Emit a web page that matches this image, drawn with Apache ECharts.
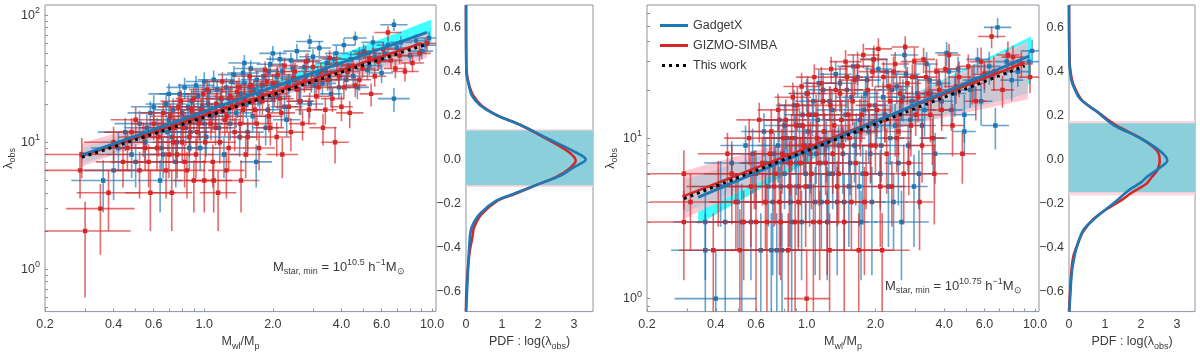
<!DOCTYPE html>
<html>
<head>
<meta charset="utf-8">
<script src="https://cdn.jsdelivr.net/npm/echarts@6/dist/echarts.min.js"></script>
<style>
html, body { margin: 0; padding: 0; background: #fff; }
#chart { width: 1200px; height: 356px; }
</style>
</head>
<body>
<div id="chart"></div>
<script>
// ---------- data ----------
// axis ticks
const xTickLabels = [0.2, 0.4, 0.6, 1, 2, 4, 6, 10]
const xTicks = [0.2, 0.3, 0.4, 0.5, 0.6, 0.7, 0.8, 0.9, 1, 2, 3, 4, 5, 6, 7, 8, 9, 10]
const yLabels1 = [1, 10, 100]
const yTicks1 = [0.5, 0.6, 0.7, 0.8, 0.9, 1, 2, 3, 4, 5, 6, 7, 8, 9, 10, 20, 30, 40, 50, 60, 70, 80, 90, 100]
const yLabels2 = [1, 10]
const yTicks2 = [0.9, 1, 2, 3, 4, 5, 6, 7, 8, 9, 10, 20, 30, 40, 50, 60]
const pdfYTicks = [-0.6, -0.4, -0.2, 0, 0.2, 0.4, 0.6]
const pdfXTicks = [0, 1, 2, 3]

// points: [Mwl/Mp, lambda_obs, x error (dex), lambda error]
// panel 1, Mstar,min = 10^10.5
const gadgetPts1 = [
  [0.36, 5, 0.14, 2.2], [0.40, 6, 0.13, 2.5], [0.42, 9, 0.12, 3], [0.45, 12, 0.12, 3.5],
  [0.48, 8, 0.11, 2.8], [0.52, 14, 0.11, 3.7], [0.55, 10, 0.1, 3.2], [0.58, 17, 0.1, 4],
  [0.62, 12, 0.1, 3.5], [0.64, 5, 0.1, 2.2], [0.65, 9, 0.1, 3], [0.68, 20, 0.09, 4.5],
  [0.70, 15, 0.09, 3.9], [0.70, 24, 0.09, 4.9], [0.72, 11, 0.09, 3.3], [0.75, 7, 0.09, 2.6],
  [0.78, 24, 0.09, 4.9], [0.80, 17, 0.08, 4.1], [0.83, 13, 0.08, 3.6], [0.86, 9, 0.08, 3],
  [0.88, 21, 0.08, 4.6], [0.92, 28, 0.08, 5.3], [0.95, 15, 0.08, 3.9], [0.98, 19, 0.08, 4.4],
  [1.0, 30, 0.08, 5.5], [1.02, 11, 0.08, 3.3], [1.05, 25, 0.08, 5], [1.1, 31, 0.07, 5.6],
  [1.12, 17, 0.07, 4.1], [1.18, 22, 0.07, 4.7], [1.22, 8, 0.07, 2.8], [1.25, 27, 0.07, 5.2],
  [1.3, 14, 0.07, 3.7], [1.35, 34, 0.07, 5.8], [1.4, 20, 0.07, 4.5], [1.45, 24, 0.07, 4.9],
  [1.5, 42, 0.07, 6.5], [1.5, 29, 0.07, 5.4], [1.55, 12, 0.07, 3.5], [1.6, 38, 0.07, 6.2],
  [1.65, 26, 0.07, 5.1], [1.69, 7, 0.07, 2.6], [1.75, 21, 0.07, 4.6], [1.82, 33, 0.06, 5.7],
  [1.9, 18, 0.06, 4.2], [1.95, 41, 0.06, 6.4], [2.0, 50, 0.06, 7], [2.05, 28, 0.06, 5.3],
  [2.1, 23, 0.06, 4.8], [2.2, 36, 0.06, 6], [2.3, 15, 0.06, 3.9], [2.4, 44, 0.06, 6.6],
  [2.5, 31, 0.06, 5.6], [2.6, 26, 0.06, 5.1], [2.75, 39, 0.06, 6.2], [2.9, 62, 0.06, 7.9],
  [2.9, 20, 0.06, 4.5], [3.0, 47, 0.06, 6.9], [3.15, 34, 0.06, 5.8], [3.3, 29, 0.06, 5.4],
  [3.45, 42, 0.05, 6.5], [3.6, 24, 0.05, 4.9], [3.8, 50, 0.05, 7.1], [4.0, 37, 0.05, 6.1],
  [4.2, 31, 0.05, 5.6], [4.4, 45, 0.05, 6.7], [4.6, 66, 0.05, 8.1], [4.7, 27, 0.05, 5.2],
  [5.0, 52, 0.05, 7.2], [5.3, 40, 0.05, 6.3], [5.6, 47, 0.05, 6.9], [6.0, 35, 0.05, 5.9],
  [6.4, 58, 0.05, 7.6], [6.8, 84, 0.06, 9.2], [6.8, 22, 0.07, 4.7], [7.3, 61, 0.05, 7.8],
  [8.0, 48, 0.05, 6.9], [9.3, 58, 0.05, 7.6], [9.7, 66, 0.05, 8.1]
]
const gadgetPts1b = [
  [0.5, 7, 0.11, 2.6], [0.56, 13, 0.1, 3.6], [0.6, 19, 0.1, 4.4], [0.66, 8, 0.1, 2.8],
  [0.69, 12, 0.09, 3.5], [0.73, 18, 0.09, 4.2], [0.76, 10, 0.09, 3.2], [0.79, 14, 0.09, 3.7],
  [0.82, 27, 0.08, 5.2], [0.85, 19, 0.08, 4.4], [0.87, 12, 0.08, 3.5], [0.9, 16, 0.08, 4],
  [0.94, 23, 0.08, 4.8], [0.96, 9, 0.08, 3], [1.0, 14, 0.08, 3.7], [1.04, 20, 0.08, 4.5],
  [1.08, 16, 0.07, 4], [1.14, 26, 0.07, 5.1], [1.16, 13, 0.07, 3.6], [1.2, 19, 0.07, 4.4],
  [1.28, 22, 0.07, 4.7], [1.32, 30, 0.07, 5.5], [1.38, 17, 0.07, 4.1], [1.43, 11, 0.07, 3.3],
  [1.48, 35, 0.07, 5.9], [1.53, 20, 0.07, 4.5], [1.58, 27, 0.07, 5.2], [1.63, 16, 0.07, 4],
  [1.7, 31, 0.07, 5.6], [1.72, 24, 0.07, 4.9], [1.8, 28, 0.06, 5.3], [1.86, 13, 0.06, 3.6],
  [1.92, 36, 0.06, 6], [2.0, 22, 0.06, 4.7], [2.08, 33, 0.06, 5.7], [2.15, 45, 0.06, 6.7],
  [2.25, 19, 0.06, 4.4], [2.35, 29, 0.06, 5.4], [2.45, 38, 0.06, 6.2], [2.55, 52, 0.06, 7.2],
  [2.65, 21, 0.06, 4.6], [2.8, 33, 0.06, 5.7], [2.85, 44, 0.06, 6.6], [3.05, 28, 0.06, 5.3],
  [3.2, 55, 0.05, 7.4], [3.4, 36, 0.05, 6], [3.55, 31, 0.05, 5.6], [3.7, 45, 0.05, 6.7],
  [3.9, 27, 0.05, 5.2], [4.1, 58, 0.05, 7.6], [4.3, 40, 0.05, 6.3], [4.5, 33, 0.05, 5.7],
  [4.8, 49, 0.05, 7], [5.2, 37, 0.05, 6.1], [5.5, 61, 0.05, 7.8], [5.9, 44, 0.05, 6.6],
  [6.2, 50, 0.05, 7.1], [7.0, 55, 0.05, 7.4], [8.5, 63, 0.05, 7.9], [9.0, 52, 0.05, 7.2]
]
const gizmoPts1 = [
  [0.29, 8, 0.22, 2.8], [0.285, 6, 0.22, 2.4], [0.30, 2, 0.2, 1.4], [0.35, 3, 0.15, 1.7],
  [0.38, 4, 0.14, 2], [0.40, 10, 0.13, 3.2], [0.44, 7, 0.12, 2.6], [0.48, 12, 0.12, 3.5],
  [0.52, 6, 0.11, 2.4], [0.55, 9, 0.11, 3], [0.58, 4, 0.11, 2], [0.6, 14, 0.1, 3.7],
  [0.63, 11, 0.1, 3.3], [0.66, 17, 0.1, 4.1], [0.7, 8, 0.09, 2.8], [0.72, 4, 0.09, 2],
  [0.74, 13, 0.09, 3.6], [0.77, 19, 0.09, 4.4], [0.8, 10, 0.09, 3.2], [0.82, 7, 0.09, 2.6],
  [0.84, 6, 0.08, 2.4], [0.87, 15, 0.08, 3.9], [0.9, 22, 0.08, 4.7], [0.9, 5, 0.09, 2.2],
  [0.93, 12, 0.08, 3.5], [0.97, 18, 0.08, 4.2], [1.0, 5, 0.08, 2.2], [1.03, 26, 0.08, 5.1],
  [1.07, 14, 0.08, 3.7], [1.1, 5, 0.08, 2.2], [1.13, 20, 0.07, 4.5], [1.15, 4, 0.08, 2],
  [1.17, 10, 0.07, 3.2], [1.2, 30, 0.07, 5.5], [1.25, 6, 0.08, 2.4], [1.26, 16, 0.07, 4],
  [1.3, 23, 0.07, 4.8], [1.36, 12, 0.07, 3.5], [1.42, 27, 0.07, 5.2], [1.45, 5, 0.08, 2.2],
  [1.48, 18, 0.07, 4.2], [1.52, 8, 0.07, 2.8], [1.58, 33, 0.07, 5.7], [1.63, 21, 0.07, 4.6],
  [1.7, 14, 0.07, 3.7], [1.78, 25, 0.06, 5], [1.85, 37, 0.06, 6.1], [1.92, 16, 0.06, 4],
  [2.0, 29, 0.06, 5.4], [2.08, 11, 0.06, 3.3], [2.15, 22, 0.06, 4.7], [2.2, 8, 0.07, 2.8],
  [2.25, 40, 0.06, 6.3], [2.35, 19, 0.06, 4.4], [2.45, 32, 0.06, 5.7], [2.55, 26, 0.06, 5.1],
  [2.7, 14, 0.06, 3.7], [2.8, 43, 0.06, 6.6], [2.95, 30, 0.06, 5.5], [3.1, 23, 0.06, 4.8],
  [3.25, 36, 0.06, 6], [3.4, 18, 0.05, 4.2], [3.55, 46, 0.05, 6.8], [3.75, 10, 0.06, 3.2],
  [3.9, 33, 0.05, 5.7], [4.1, 27, 0.05, 5.2], [4.35, 17, 0.06, 4.1], [4.5, 40, 0.05, 6.3],
  [4.8, 31, 0.05, 5.6], [5.1, 50, 0.05, 7.1], [5.4, 24, 0.05, 4.9], [5.8, 43, 0.05, 6.6],
  [6.4, 73, 0.06, 8.5], [6.9, 38, 0.05, 6.2], [7.6, 36, 0.06, 6], [8.8, 50, 0.05, 7.1],
  [9.5, 60, 0.05, 7.7]
]
const gizmoPts1b = [
  [0.46, 9, 0.12, 3], [0.5, 15, 0.11, 3.9], [0.54, 11, 0.11, 3.3], [0.57, 7, 0.1, 2.6],
  [0.62, 9, 0.1, 3], [0.65, 13, 0.1, 3.6], [0.68, 6, 0.1, 2.4], [0.71, 16, 0.09, 4],
  [0.73, 10, 0.09, 3.2], [0.76, 8, 0.09, 2.8], [0.79, 21, 0.09, 4.6], [0.81, 13, 0.09, 3.6],
  [0.86, 11, 0.08, 3.3], [0.88, 18, 0.08, 4.2], [0.92, 8, 0.08, 2.8], [0.95, 14, 0.08, 3.7],
  [0.99, 24, 0.08, 4.9], [1.01, 10, 0.08, 3.2], [1.05, 17, 0.08, 4.1], [1.09, 7, 0.08, 2.6],
  [1.12, 13, 0.07, 3.6], [1.19, 22, 0.07, 4.7], [1.23, 15, 0.07, 3.9], [1.28, 9, 0.07, 3],
  [1.33, 19, 0.07, 4.4], [1.39, 25, 0.07, 5], [1.44, 14, 0.07, 3.7], [1.5, 22, 0.07, 4.7],
  [1.55, 11, 0.07, 3.3], [1.6, 28, 0.07, 5.3], [1.67, 18, 0.07, 4.2], [1.74, 9, 0.07, 3],
  [1.8, 21, 0.06, 4.6], [1.88, 30, 0.06, 5.5], [1.95, 13, 0.06, 3.6], [2.03, 24, 0.06, 4.9],
  [2.1, 34, 0.06, 5.8], [2.18, 17, 0.06, 4.1], [2.3, 27, 0.06, 5.2], [2.4, 12, 0.06, 3.5],
  [2.5, 36, 0.06, 6], [2.62, 21, 0.06, 4.6], [2.75, 30, 0.06, 5.5], [2.88, 18, 0.06, 4.2],
  [3.0, 39, 0.06, 6.2], [3.18, 27, 0.06, 5.2], [3.32, 13, 0.06, 3.6], [3.48, 31, 0.05, 5.6],
  [3.65, 22, 0.05, 4.7], [3.82, 41, 0.05, 6.4], [4.0, 19, 0.05, 4.4], [4.25, 36, 0.05, 6],
  [4.6, 28, 0.05, 5.3], [4.95, 38, 0.05, 6.2], [5.3, 46, 0.05, 6.8], [5.6, 33, 0.05, 5.7],
  [6.1, 54, 0.05, 7.3], [6.6, 44, 0.05, 6.6], [7.2, 48, 0.05, 6.9], [8.2, 42, 0.05, 6.5]
]
// panel 2, Mstar,min = 10^10.75
const gadgetPts2 = [
  [0.36, 2, 0.15, 1.4], [0.36, 3, 0.14, 1.7], [0.40, 1, 0.18, 1.0], [0.42, 5, 0.13, 2.2],
  [0.47, 7, 0.12, 2.6], [0.5, 4, 0.12, 2], [0.54, 9, 0.11, 3], [0.57, 3, 0.11, 1.7],
  [0.6, 6, 0.1, 2.4], [0.63, 2, 0.2, 1.4], [0.65, 11, 0.1, 3.3], [0.68, 5, 0.1, 2.2],
  [0.7, 2, 0.1, 1.4], [0.72, 8, 0.09, 2.8], [0.74, 2, 0.09, 1.4], [0.76, 13, 0.09, 3.6],
  [0.78, 2, 0.09, 1.4], [0.8, 6, 0.09, 2.4], [0.82, 10, 0.09, 3.2], [0.85, 4, 0.09, 2],
  [0.88, 16, 0.08, 4], [0.9, 7, 0.08, 2.6], [0.93, 12, 0.08, 3.5], [0.95, 3, 0.08, 1.7],
  [0.98, 9, 0.08, 3], [1.0, 19, 0.08, 4.4], [1.03, 5, 0.08, 2.2], [1.06, 14, 0.08, 3.7],
  [1.1, 8, 0.08, 2.8], [1.13, 22, 0.07, 4.7], [1.16, 4, 0.08, 2], [1.2, 11, 0.07, 3.3],
  [1.23, 3, 0.18, 1.7], [1.26, 17, 0.07, 4.1], [1.3, 6, 0.07, 2.4], [1.34, 25, 0.07, 5],
  [1.38, 9, 0.07, 3], [1.42, 13, 0.07, 3.6], [1.46, 4, 0.07, 2], [1.5, 20, 0.07, 4.5],
  [1.55, 7, 0.07, 2.6], [1.6, 28, 0.07, 5.3], [1.65, 11, 0.07, 3.3], [1.7, 5, 0.07, 2.2],
  [1.73, 3, 0.07, 1.7], [1.78, 15, 0.07, 3.9], [1.84, 23, 0.06, 4.8], [1.9, 8, 0.06, 2.8],
  [1.96, 31, 0.06, 5.6], [2.02, 12, 0.06, 3.5], [2.1, 6, 0.06, 2.4], [2.16, 18, 0.06, 4.2],
  [2.24, 26, 0.06, 5.1], [2.32, 10, 0.06, 3.2], [2.4, 4, 0.06, 2], [2.48, 21, 0.06, 4.6],
  [2.56, 14, 0.06, 3.7], [2.6, 3, 0.12, 1.7], [2.68, 33, 0.06, 5.7], [2.78, 9, 0.06, 3],
  [2.9, 17, 0.06, 4.1], [3.0, 24, 0.06, 4.9], [3.1, 6, 0.06, 2.4], [3.2, 12, 0.06, 3.5],
  [3.35, 29, 0.05, 5.4], [3.5, 19, 0.05, 4.4], [3.65, 8, 0.06, 2.8], [3.8, 22, 0.05, 4.7],
  [4.1, 34, 0.05, 5.8], [4.3, 15, 0.05, 3.9], [4.6, 27, 0.05, 5.2], [4.9, 11, 0.05, 3.3],
  [5.2, 20, 0.05, 4.5], [5.6, 31, 0.05, 5.6], [6.0, 24, 0.05, 4.9], [6.7, 12, 0.06, 3.5],
  [6.85, 49, 0.06, 7], [7.5, 30, 0.05, 5.5], [8.4, 26, 0.05, 5.1], [9.4, 30, 0.05, 5.5],
  [9.7, 35, 0.05, 5.9]
]
const gadgetPts2b = [
  [0.66, 7, 0.1, 3.2], [0.71, 4, 0.1, 2.6], [0.75, 9, 0.09, 3.7], [0.77, 5, 0.09, 2.9],
  [0.8, 12, 0.09, 4.3], [0.84, 7, 0.09, 3.2], [0.86, 3, 0.09, 2.2], [0.89, 10, 0.08, 3.9],
  [0.92, 5, 0.08, 2.9], [0.96, 14, 0.08, 4.6], [0.99, 6, 0.08, 3.1], [1.01, 11, 0.08, 4.1],
  [1.04, 8, 0.08, 3.5], [1.07, 17, 0.08, 5], [1.09, 4, 0.08, 2.6], [1.12, 13, 0.07, 4.5],
  [1.15, 7, 0.07, 3.2], [1.18, 20, 0.07, 5.5], [1.22, 9, 0.07, 3.7], [1.25, 6, 0.07, 3.1],
  [1.29, 15, 0.07, 4.8], [1.33, 10, 0.07, 3.9], [1.36, 4, 0.07, 2.6], [1.4, 22, 0.07, 5.8],
  [1.44, 8, 0.07, 3.5], [1.48, 14, 0.07, 4.6], [1.53, 5, 0.07, 2.9], [1.57, 18, 0.07, 5.3],
  [1.62, 9, 0.07, 3.7], [1.67, 24, 0.07, 6], [1.71, 13, 0.07, 4.5], [1.76, 6, 0.07, 3.1],
  [1.81, 19, 0.06, 5.4], [1.87, 11, 0.06, 4.1], [1.93, 4, 0.06, 2.6], [1.99, 16, 0.06, 4.9],
  [2.06, 27, 0.06, 6.4], [2.12, 9, 0.06, 3.7], [2.2, 14, 0.06, 4.6], [2.28, 5, 0.06, 2.9],
  [2.36, 20, 0.06, 5.5], [2.44, 12, 0.06, 4.3], [2.52, 7, 0.06, 3.2], [2.64, 18, 0.06, 5.3],
  [2.72, 25, 0.06, 6.1], [2.84, 13, 0.06, 4.5], [2.95, 5, 0.06, 2.9], [3.05, 19, 0.06, 5.4],
  [3.28, 15, 0.05, 4.8], [3.45, 23, 0.05, 5.9], [3.58, 10, 0.06, 3.9], [3.9, 17, 0.05, 5],
  [4.2, 26, 0.05, 6.3], [4.45, 19, 0.05, 5.4], [4.9, 14, 0.05, 4.6], [5.4, 23, 0.05, 5.9],
  [5.8, 17, 0.05, 5], [6.3, 28, 0.05, 6.5], [7.9, 23, 0.05, 5.9], [0.52, 3, 0.11, 2.2],
  [0.58, 8, 0.1, 3.5], [0.44, 3, 0.13, 2.2]
]
const gizmoPts2 = [
  [0.29, 3, 0.2, 1.7], [0.29, 6, 0.2, 2.4], [0.31, 4, 0.18, 2], [0.39, 2, 0.15, 1.4],
  [0.41, 5, 0.14, 2.2], [0.45, 8, 0.13, 2.8], [0.49, 4, 0.12, 2], [0.53, 3, 0.12, 1.7],
  [0.56, 10, 0.11, 3.2], [0.59, 6, 0.11, 2.4], [0.62, 13, 0.1, 3.6], [0.66, 4, 0.1, 2],
  [0.69, 8, 0.1, 2.8], [0.72, 5, 0.1, 2.2], [0.75, 15, 0.09, 3.9], [0.77, 3, 0.09, 1.7],
  [0.79, 10, 0.09, 3.2], [0.83, 2, 0.25, 1.4], [0.85, 7, 0.09, 2.6], [0.87, 18, 0.08, 4.2],
  [0.9, 12, 0.08, 3.5], [0.92, 4, 0.08, 2], [0.95, 21, 0.08, 4.6], [0.97, 9, 0.08, 3],
  [1.0, 1, 0.1, 1], [1.02, 14, 0.08, 3.7], [1.05, 6, 0.08, 2.4], [1.08, 24, 0.08, 4.9],
  [1.11, 10, 0.08, 3.2], [1.14, 3, 0.08, 1.7], [1.18, 17, 0.07, 4.1], [1.21, 7, 0.07, 2.6],
  [1.26, 2, 0.22, 1.4], [1.28, 27, 0.07, 5.2], [1.32, 12, 0.07, 3.5], [1.36, 5, 0.07, 2.2],
  [1.4, 19, 0.07, 4.4], [1.44, 9, 0.07, 3], [1.48, 30, 0.07, 5.5], [1.52, 14, 0.07, 3.7],
  [1.57, 4, 0.07, 2], [1.62, 23, 0.07, 4.8], [1.69, 2, 0.15, 1.4], [1.72, 11, 0.07, 3.3],
  [1.77, 33, 0.07, 5.7], [1.82, 6, 0.07, 2.4], [1.88, 16, 0.06, 4], [1.94, 26, 0.06, 5.1],
  [2.0, 9, 0.06, 3], [2.06, 36, 0.06, 6], [2.14, 2, 0.12, 1.4], [2.2, 13, 0.06, 3.6],
  [2.28, 21, 0.06, 4.6], [2.36, 5, 0.06, 2.2], [2.44, 29, 0.06, 5.4], [2.52, 11, 0.06, 3.3],
  [2.6, 17, 0.06, 4.1], [2.7, 37, 0.06, 6.1], [2.8, 7, 0.06, 2.6], [2.9, 24, 0.06, 4.9],
  [3.0, 14, 0.06, 3.7], [3.12, 4, 0.06, 2], [3.25, 31, 0.05, 5.6], [3.4, 19, 0.05, 4.4],
  [3.55, 10, 0.05, 3.2], [3.7, 26, 0.05, 5.1], [3.9, 15, 0.05, 3.9], [4.2, 33, 0.05, 5.7],
  [4.5, 21, 0.05, 4.6], [4.8, 8, 0.06, 2.8], [5.1, 28, 0.05, 5.3], [5.5, 17, 0.05, 4.1],
  [6.0, 25, 0.05, 5], [6.45, 43, 0.06, 6.6], [7.2, 20, 0.05, 4.5], [8.0, 32, 0.05, 5.7],
  [8.7, 29, 0.05, 5.4], [9.5, 24, 0.05, 4.9]
]
const gizmoPts2b = [
  [0.64, 7, 0.1, 3.2], [0.67, 3, 0.1, 2.2], [0.7, 11, 0.1, 4.1], [0.73, 6, 0.09, 3.1],
  [0.76, 4, 0.09, 2.6], [0.78, 8, 0.09, 3.5], [0.81, 13, 0.09, 4.5], [0.84, 5, 0.09, 2.9],
  [0.86, 10, 0.08, 3.9], [0.89, 3, 0.08, 2.2], [0.91, 16, 0.08, 4.9], [0.94, 7, 0.08, 3.2],
  [0.96, 12, 0.08, 4.3], [0.99, 5, 0.08, 2.9], [1.01, 19, 0.08, 5.4], [1.04, 9, 0.08, 3.7],
  [1.07, 3, 0.08, 2.2], [1.1, 14, 0.08, 4.6], [1.13, 7, 0.07, 3.2], [1.16, 22, 0.07, 5.8],
  [1.19, 11, 0.07, 4.1], [1.23, 4, 0.07, 2.6], [1.27, 16, 0.07, 4.9], [1.3, 8, 0.07, 3.5],
  [1.34, 20, 0.07, 5.5], [1.38, 6, 0.07, 3.1], [1.42, 13, 0.07, 4.5], [1.46, 3, 0.07, 2.2],
  [1.5, 24, 0.07, 6], [1.54, 10, 0.07, 3.9], [1.59, 17, 0.07, 5], [1.64, 7, 0.07, 3.2],
  [1.67, 28, 0.07, 6.5], [1.74, 14, 0.07, 4.6], [1.79, 4, 0.07, 2.6], [1.85, 20, 0.06, 5.5],
  [1.91, 9, 0.06, 3.7], [1.97, 31, 0.06, 6.8], [2.03, 15, 0.06, 4.8], [2.1, 5, 0.06, 2.9],
  [2.17, 24, 0.06, 6], [2.24, 8, 0.06, 3.5], [2.32, 17, 0.06, 5], [2.4, 26, 0.06, 6.3],
  [2.48, 10, 0.06, 3.9], [2.56, 19, 0.06, 5.4], [2.66, 6, 0.06, 3.1], [2.76, 22, 0.06, 5.8],
  [2.86, 12, 0.06, 4.3], [2.96, 30, 0.06, 6.7], [3.08, 18, 0.06, 5.3], [3.2, 9, 0.06, 3.7],
  [3.33, 24, 0.05, 6], [3.48, 14, 0.05, 4.6], [3.62, 6, 0.06, 3.1], [3.8, 20, 0.05, 5.5],
  [4.05, 27, 0.05, 6.4], [4.35, 12, 0.05, 4.3], [4.65, 24, 0.05, 6], [5.3, 22, 0.05, 5.8],
  [5.8, 30, 0.05, 6.7], [6.6, 26, 0.05, 6.3], [7.6, 33, 0.05, 7], [0.47, 6, 0.12, 3.1],
  [0.51, 2, 0.12, 1.6], [0.57, 5, 0.11, 2.9], [0.6, 3, 0.11, 2.2]
]

// best-fit lines [x, lambda]
const gadgetFit1 = [[0.29, 7.9], [9.5, 73]]
const gizmoFit1 = [[0.29, 7.8], [9.0, 60]]
const thisWork1 = [[0.29, 7.6], [9.2, 58]]
const gadgetFit2 = [[0.335, 4.28], [9.4, 32.5]]
const gizmoFit2 = [[0.286, 4.32], [9.0, 29.6]]
const thisWork2 = [[0.29, 4.2], [9.0, 28.2]]

// uncertainty bands [x, low, high]
const gadgetBand1 = [[0.29, 6.9, 9.0], [1.5, 21, 25], [9.9, 60, 92]]
const gizmoBand1 = [[0.29, 6.4, 9.8], [1.5, 19.5, 23.5], [9.5, 46, 72]]
const thisWorkBand1 = [[0.29, 6.7, 8.8], [1.5, 19.5, 22.5], [9.5, 49, 68]]
const gadgetBand2 = [[0.335, 2.9, 5.8], [1.5, 9.8, 11.8], [9.6, 22, 43]]
const gizmoBand2 = [[0.286, 3.1, 6.2], [1.5, 9.9, 12.0], [9.3, 17.5, 40]]
const thisWorkBand2 = [[0.29, 3.4, 5.5], [1.5, 9.6, 11.4], [9.3, 19, 39]]

// PDF of log(lambda_obs): [pdf, log lambda]
const gadgetPdf1 = [[0, 0.70], [0.005, 0.45], [0.02, 0.38], [0.06, 0.35], [0.16, 0.29], [0.39, 0.246], [0.85, 0.2], [1.5, 0.157], [2.24, 0.097], [2.98, 0.038], [3.33, 0.0], [2.98, -0.037], [2.61, -0.075], [2.14, -0.104], [1.31, -0.157], [0.85, -0.186], [0.39, -0.246], [0.16, -0.306], [0.11, -0.35], [0.06, -0.485], [0.02, -0.63], [0, -0.69]]
const gizmoPdf1 = [[0, 0.70], [0.01, 0.42], [0.04, 0.37], [0.1, 0.33], [0.2, 0.29], [0.42, 0.246], [0.87, 0.2], [1.5, 0.157], [2.2, 0.097], [2.82, 0.038], [3.05, -0.005], [2.85, -0.045], [2.5, -0.08], [2.05, -0.11], [1.3, -0.16], [0.85, -0.19], [0.42, -0.25], [0.22, -0.31], [0.18, -0.35], [0.1, -0.42], [0.05, -0.5], [0.01, -0.6], [0, -0.69]]
const gadgetPdf2 = [[0, 0.70], [0.01, 0.45], [0.04, 0.39], [0.08, 0.35], [0.3, 0.276], [0.77, 0.217], [1.23, 0.157], [1.97, 0.097], [2.53, 0.038], [2.73, -0.005], [2.53, -0.037], [2.16, -0.08], [2.0, -0.104], [1.7, -0.135], [1.55, -0.155], [1.23, -0.2], [0.77, -0.26], [0.4, -0.32], [0.25, -0.38], [0.17, -0.425], [0.08, -0.51], [0.03, -0.63], [0.01, -0.69]]
const gizmoPdf2 = [[0, 0.70], [0.02, 0.43], [0.06, 0.38], [0.12, 0.34], [0.35, 0.27], [0.82, 0.212], [1.3, 0.155], [2.0, 0.095], [2.45, 0.038], [2.52, -0.01], [2.45, -0.05], [2.3, -0.08], [2.15, -0.11], [1.75, -0.15], [1.5, -0.18], [1.1, -0.22], [0.68, -0.27], [0.38, -0.33], [0.25, -0.38], [0.12, -0.44], [0.06, -0.52], [0.02, -0.63], [0, -0.69]]

// 1-sigma spread of log(lambda_obs) [low, high]
const gadgetSigma1 = [-0.117, 0.131]
const gizmoSigma1 = [-0.125, 0.137]
const gadgetSigma2 = [-0.149, 0.164]
const gizmoSigma2 = [-0.164, 0.174]

// ---------- styles ----------
const BLUE = '#1f77b4'
const RED = '#d62728'
const FRAME = '#8c959f'
const TEXT = '#3a3a3a'
const FONT = 'Liberation Sans, Arial, sans-serif'

const subRich = {
  a: { fontSize: 12.5, lineHeight: 18, color: TEXT, fontFamily: FONT },
  b: { fontSize: 9, lineHeight: 10, color: TEXT, fontFamily: FONT, verticalAlign: 'bottom' },
  s: { fontSize: 9, lineHeight: 10, color: TEXT, fontFamily: FONT, verticalAlign: 'top' }
}

function logXAxis (grid) {
  return {
    type: 'log', gridIndex: grid, min: 0.2, max: 10.4, logBase: 10,
    name: '{a|M}{b|wl}{a|/M}{b|p}', nameLocation: 'middle', nameGap: 18,
    nameTextStyle: { rich: subRich },
    axisLine: { show: false },
    axisTick: { inside: true, length: 3, customValues: xTicks, lineStyle: { color: FRAME } },
    axisLabel: { customValues: xTickLabels, formatter: v => Number(v).toFixed(1), fontSize: 12.5, color: TEXT, fontFamily: FONT, margin: 6 },
    splitLine: { show: false }
  }
}

function logYAxis (grid, min, max, labels, ticks, gap) {
  return {
    type: 'log', gridIndex: grid, min: min, max: max, logBase: 10,
    name: '{a|λ}{b|obs}', nameLocation: 'middle', nameGap: gap, nameRotate: 90,
    nameTextStyle: { rich: subRich },
    axisLine: { show: false },
    axisTick: { inside: true, length: 3, customValues: ticks, lineStyle: { color: FRAME } },
    axisLabel: {
      customValues: labels,
      formatter: v => '{a|10}{s|' + Math.round(Math.log10(v)) + '}',
      rich: subRich, margin: 5
    },
    splitLine: { show: false }
  }
}

function pdfXAxis (grid, max) {
  return {
    type: 'value', gridIndex: grid, min: 0, max: max,
    name: '{a|PDF : log(λ}{b|obs}{a|)}', nameLocation: 'middle', nameGap: 18,
    nameTextStyle: { rich: subRich },
    axisLine: { show: false },
    axisTick: { show: false },
    axisLabel: { customValues: pdfXTicks, formatter: v => String(v), fontSize: 12.5, color: TEXT, fontFamily: FONT, margin: 6 },
    splitLine: { show: false }
  }
}

function pdfYAxis (grid) {
  return {
    type: 'value', gridIndex: grid, min: -0.69, max: 0.7,
    axisLine: { show: false },
    axisTick: { show: false },
    axisLabel: {
      customValues: pdfYTicks,
      formatter: v => (v < -1e-9 ? '\u2212' : '') + Math.abs(v).toFixed(1),
      fontSize: 12.5, color: TEXT, fontFamily: FONT, margin: 5
    },
    splitLine: { show: false }
  }
}

function errorSeries (pts, color, ax) {
  return {
    type: 'custom', xAxisIndex: ax, yAxisIndex: ax, data: pts, clip: true, silent: true, z: 3,
    encode: { x: 0, y: 1 },
    renderItem (params, api) {
      const x = api.value(0)
      const y = api.value(1)
      const f = Math.pow(10, api.value(2))
      const ey = api.value(3)
      const c = api.coord([x, y])
      const l = api.coord([x / f, y])
      const r = api.coord([x * f, y])
      const t = api.coord([x, y + ey])
      const b = api.coord([x, Math.max(y - ey, 0.05)])
      const ls = { stroke: color, lineWidth: 1.6, opacity: 0.68 }
      return {
        type: 'group',
        children: [
          { type: 'line', shape: { x1: l[0], y1: c[1], x2: r[0], y2: c[1] }, style: ls },
          { type: 'line', shape: { x1: c[0], y1: t[1], x2: c[0], y2: b[1] }, style: ls },
          { type: 'rect', shape: { x: c[0] - 2.2, y: c[1] - 2.2, width: 4.4, height: 4.4 }, style: { fill: color } }
        ]
      }
    }
  }
}

function bandSeries (rows, color, opacity, ax) {
  return {
    type: 'custom', xAxisIndex: ax, yAxisIndex: ax, data: rows, clip: true, silent: true, z: 2,
    encode: { x: 0, y: 1 },
    renderItem (params, api) {
      if (params.dataIndex !== 0) return
      const top = rows.map(r => api.coord([r[0], r[2]]))
      const bot = rows.map(r => api.coord([r[0], r[1]])).reverse()
      return { type: 'polygon', shape: { points: top.concat(bot) }, style: { fill: color, opacity: opacity } }
    }
  }
}

function fitSeries (name, pts, color, width, dotted, ax) {
  return {
    name: name, type: 'line', xAxisIndex: ax, yAxisIndex: ax, data: pts, z: 4,
    showSymbol: false, silent: true,
    itemStyle: { color: color },
    lineStyle: { color: color, width: width, type: dotted ? [3, 4] : 'solid', cap: 'butt' }
  }
}

function pdfSeries (pts, color, ax, sigma, bandColor) {
  return {
    type: 'line', xAxisIndex: ax, yAxisIndex: ax, data: pts, z: 4,
    showSymbol: false, silent: true, smooth: 0.3,
    lineStyle: { color: color, width: 2.6 },
    markArea: {
      silent: true,
      itemStyle: { color: bandColor },
      data: [[{ yAxis: sigma[0] }, { yAxis: sigma[1] }]]
    }
  }
}

const chart = echarts.init(document.getElementById('chart'))
const option = {
  animation: false,
  textStyle: { fontFamily: FONT },
  grid: [
    { left: 45, top: 5, width: 391, height: 311, show: true, borderColor: FRAME, borderWidth: 1 },
    { left: 466, top: 5, width: 127, height: 311, show: true, borderColor: FRAME, borderWidth: 1 },
    { left: 647, top: 5, width: 392, height: 311, show: true, borderColor: FRAME, borderWidth: 1 },
    { left: 1069, top: 5, width: 126, height: 311, show: true, borderColor: FRAME, borderWidth: 1 }
  ],
  xAxis: [logXAxis(0), pdfXAxis(1, 3.53), logXAxis(2), pdfXAxis(3, 3.5)],
  yAxis: [
    logYAxis(0, 0.465, 120, yLabels1, yTicks1, 27),
    pdfYAxis(1),
    logYAxis(2, 0.83, 67.6, yLabels2, yTicks2, 25),
    pdfYAxis(3)
  ],
  legend: {
    left: 655, top: 14, orient: 'vertical', itemWidth: 28, itemHeight: 3, itemGap: 7,
    selectedMode: false,
    textStyle: { fontSize: 12.5, color: TEXT, fontFamily: FONT },
    data: [
      { name: 'GadgetX', icon: 'rect' },
      { name: 'GIZMO-SIMBA', icon: 'rect' },
      { name: 'This work', icon: 'path://M0 0h3v3h-3zM7 0h3v3h-3zM14 0h3v3h-3zM21 0h3v3h-3z' }
    ]
  },
  graphic: [
    {
      type: 'text', x: 273, y: 267, silent: true,
      style: {
        text: '{a|M}{b|star, min}{a| = 10}{s|10.5}{a| h}{s|\u22121}{a|M}{b|\u2299}',
        verticalAlign: 'middle',
        rich: {
          a: { fontSize: 13, lineHeight: 18, fill: TEXT, fontFamily: FONT },
          b: { fontSize: 9, lineHeight: 10, fill: TEXT, fontFamily: FONT, verticalAlign: 'bottom' },
          s: { fontSize: 9, lineHeight: 10, fill: TEXT, fontFamily: FONT, verticalAlign: 'top' }
        }
      }
    },
    {
      type: 'text', x: 885, y: 286, silent: true,
      style: {
        text: '{a|M}{b|star, min}{a| = 10}{s|10.75}{a| h}{s|\u22121}{a|M}{b|\u2299}',
        verticalAlign: 'middle',
        rich: {
          a: { fontSize: 13, lineHeight: 18, fill: TEXT, fontFamily: FONT },
          b: { fontSize: 9, lineHeight: 10, fill: TEXT, fontFamily: FONT, verticalAlign: 'bottom' },
          s: { fontSize: 9, lineHeight: 10, fill: TEXT, fontFamily: FONT, verticalAlign: 'top' }
        }
      }
    }
  ],
  series: [
    // panel 1
    bandSeries(gadgetBand1, '#00ffff', 0.75, 0),
    bandSeries(gizmoBand1, '#ffc0cb', 0.85, 0),
    bandSeries(thisWorkBand1, '#c6c8d4', 0.9, 0),
    errorSeries(gadgetPts1.concat(gadgetPts1b), BLUE, 0),
    errorSeries(gizmoPts1.concat(gizmoPts1b), RED, 0),
    fitSeries('GIZMO-SIMBA', gizmoFit1, RED, 2.6, false, 0),
    fitSeries('GadgetX', gadgetFit1, BLUE, 3, false, 0),
    fitSeries('This work', thisWork1, '#000', 3, true, 0),
    pdfSeries(gizmoPdf1, RED, 1, gizmoSigma1, '#ffd6dd'),
    pdfSeries(gadgetPdf1, BLUE, 1, gadgetSigma1, '#8acfd9'),
    // panel 2
    bandSeries(gadgetBand2, '#00ffff', 0.75, 2),
    bandSeries(gizmoBand2, '#ffc0cb', 0.85, 2),
    bandSeries(thisWorkBand2, '#c6c8d4', 0.9, 2),
    errorSeries(gadgetPts2.concat(gadgetPts2b), BLUE, 2),
    errorSeries(gizmoPts2.concat(gizmoPts2b), RED, 2),
    fitSeries('GIZMO-SIMBA', gizmoFit2, RED, 2.6, false, 2),
    fitSeries('GadgetX', gadgetFit2, BLUE, 3, false, 2),
    fitSeries('This work', thisWork2, '#000', 3, true, 2),
    pdfSeries(gizmoPdf2, RED, 3, gizmoSigma2, '#ffd6dd'),
    pdfSeries(gadgetPdf2, BLUE, 3, gadgetSigma2, '#8acfd9')
  ]
}
chart.setOption(option)
</script>
</body>
</html>
